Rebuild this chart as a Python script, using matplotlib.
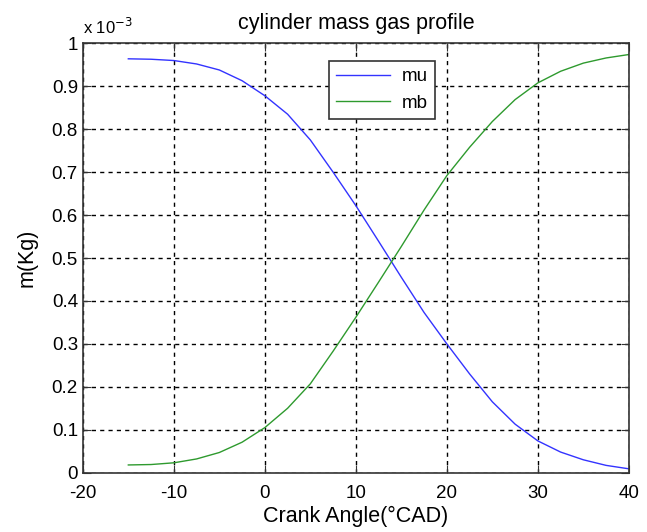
import matplotlib
matplotlib.use('Agg')
import matplotlib.pyplot as plt

# crank angle (deg) and masses, in units of 1e-3 kg
theta = [-15, -12.5, -10, -7.5, -5, -2.5, 0, 2.5, 5, 7.5, 10, 12.5, 15,
         17.5, 20, 22.5, 25, 27.5, 30, 32.5, 35, 37.5, 40]
mu = [0.964, 0.963, 0.960, 0.952, 0.938, 0.913, 0.878, 0.835, 0.775, 0.700,
      0.622, 0.539, 0.455, 0.373, 0.300, 0.230, 0.165, 0.113, 0.074, 0.048,
      0.030, 0.017, 0.009]
mb = [0.018, 0.019, 0.023, 0.032, 0.047, 0.071, 0.105, 0.150, 0.207, 0.283,
      0.362, 0.444, 0.527, 0.612, 0.692, 0.758, 0.818, 0.869, 0.908, 0.935,
      0.954, 0.966, 0.974]

plt.rcParams['font.family'] = ['Liberation Sans', 'DejaVu Sans']
plt.rcParams['axes.unicode_minus'] = False

fig = plt.figure(figsize=(6.47, 5.32), dpi=100)
ax = fig.add_axes([0.128, 0.1115, 0.844, 0.807])

ax.plot(theta, mu, color='#3333ff', lw=1.0, label='mu')
ax.plot(theta, mb, color='#2e9a2e', lw=1.0, label='mb')

ax.set_xlim(-20, 40)
ax.set_ylim(0, 1)
ax.set_xticks(range(-20, 41, 10))
ax.set_yticks([i / 10 for i in range(11)])
ax.set_yticklabels(['0', '0.1', '0.2', '0.3', '0.4', '0.5', '0.6', '0.7',
                    '0.8', '0.9', '1'])
ax.grid(True, color='black', linestyle=(0, (3, 3)), linewidth=1.0)
ax.tick_params(direction='in', top=True, right=True, labelsize=13.5,
               length=6, color='#333333')
ax.tick_params(axis='x', pad=9)
for s in ax.spines.values():
    s.set_color('#333333')
    s.set_linewidth(1.2)

ax.set_title('cylinder mass gas profile', fontsize=15.5, pad=10)
ax.set_xlabel('Crank Angle(°CAD)', fontsize=15.5, labelpad=3)
ax.set_ylabel('m(Kg)', fontsize=15.5, labelpad=10)
ax.text(0.0, 1.015, r'x 10$^{-3}$', transform=ax.transAxes, fontsize=12,
        ha='left', va='bottom')

leg = ax.legend(loc='upper left', bbox_to_anchor=(0.45, 0.96), fontsize=13.5,
                fancybox=False, framealpha=1, edgecolor='#333333',
                handlelength=2.9, handletextpad=0.6, borderpad=0.4,
                labelspacing=0.5, borderaxespad=0)
leg.get_frame().set_linewidth(1.2)

fig.savefig('out.png', dpi=100)
